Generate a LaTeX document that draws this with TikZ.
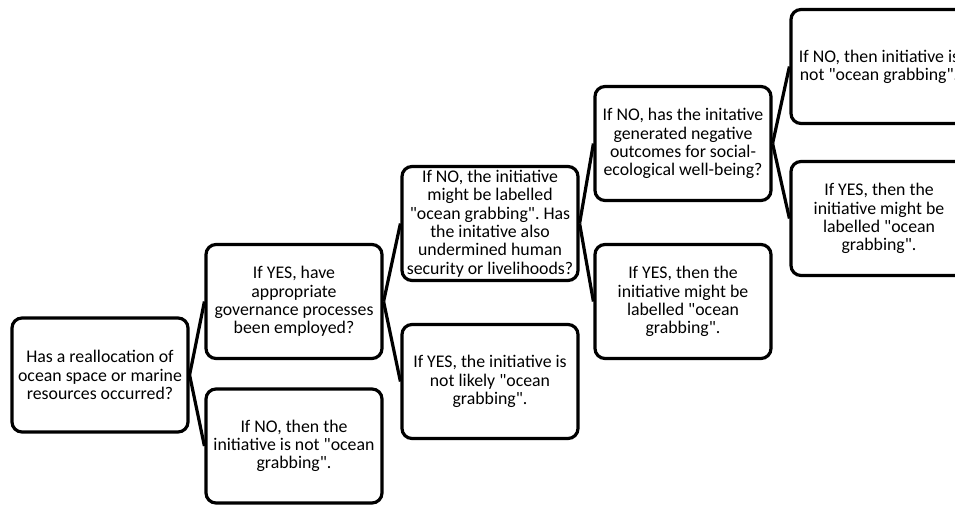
\documentclass[tikz,border=0pt]{standalone}
\usepackage{fontspec}
\setmainfont{Carlito}[Ligatures=TeXOff]
\frenchspacing
\begin{document}
\begin{tikzpicture}[x=1pt,y=-1pt,
  box/.style={draw=black, line width=3.2pt, rounded corners=10pt, minimum width=176pt, minimum height=114pt, align=center, inner sep=0pt, font=\fontsize{17.8}{18.3}\selectfont},
  link/.style={draw=black, line width=3.2pt}]
\useasboundingbox (0,0) rectangle (955,504);
\clip (0,0) rectangle (955,504);
\node[box] (A) at (100,375) {Has a reallocation of\\ocean space or marine\\resources occurred?};
\node[box] (B) at (294,301.5) {If YES, have\\appropriate\\governance processes\\been employed?};
\node[box] (C) at (294,446) {If NO, then the\\initiative is not "ocean\\grabbing".};
\node[box] (D) at (490,223.5) {If NO, the initiative\\might be labelled\\"ocean grabbing". Has\\the initative also\\undermined human\\security or livelihoods?};
\node[box] (E) at (490,381.5) {If YES, the initiative is\\not likely "ocean\\grabbing".};
\node[box] (F) at (683,143.5) {If NO, has the initative\\generated negative\\outcomes for social-\\ecological well-being?};
\node[box] (G) at (683,301.5) {If YES, then the\\initiative might be\\labelled "ocean\\grabbing".};
\node[box] (H) at (879,66.5) {If NO, then initiative is\\not "ocean grabbing".};
\node[box] (I) at (879,218.5) {If YES, then the\\initiative might be\\labelled "ocean\\grabbing".};
\draw[link] (A.east) -- (B.west);
\draw[link] (A.east) -- (C.west);
\draw[link] (B.east) -- (D.west);
\draw[link] (B.east) -- (E.west);
\draw[link] (D.east) -- (F.west);
\draw[link] (D.east) -- (G.west);
\draw[link] (F.east) -- (H.west);
\draw[link] (F.east) -- (I.west);
\end{tikzpicture}
\end{document}
